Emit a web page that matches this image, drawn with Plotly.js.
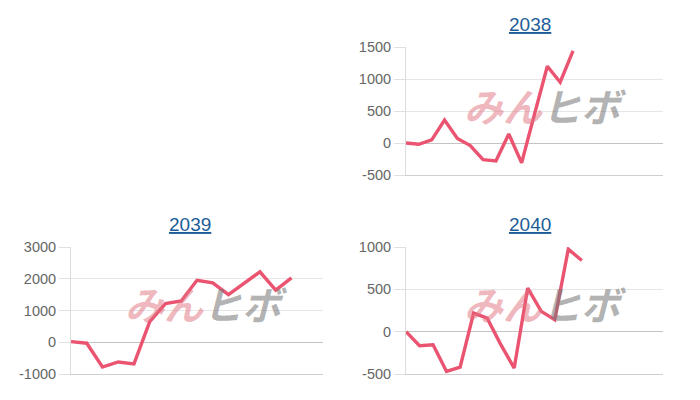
<!DOCTYPE html>
<html>
<head>
<meta charset="utf-8">
<script src="https://cdn.plot.ly/plotly-3.0.1.min.js"></script>
<style>html,body{margin:0;padding:0;background:#fff;}#chart{width:700px;height:400px;}</style>
</head>
<body>
<div id="chart"></div>
<script>
// Data
const titles = ["2038", "2039", "2040"];
const values2038 = [0, -20, 50, 360, 70, -40, -260, -280, 140, -310, 450, 1200, 950, 1440];
const values2039 = [20, -30, -780, -620, -680, 650, 1220, 1300, 1950, 1870, 1500, 1860, 2220, 1640, 2030];
const values2040 = [0, -165, -155, -470, -420, 220, 160, -150, -430, 515, 240, 140, 975, 840];
const ticks2038 = [-500, 0, 500, 1000, 1500];
const ticks2039 = [-1000, 0, 1000, 2000, 3000];
const ticks2040 = [-500, 0, 500, 1000];
const xSlots = [20, 16, 19]; // number of x intervals on each panel
const watermarkPink = "みん";
const watermarkGray = "ヒボ";

const lineColor = "#ea5470";
const idx = arr => arr.map((_, i) => i);

const traces = [
  {x: idx(values2038), y: values2038, xaxis: "x", yaxis: "y"},
  {x: idx(values2039), y: values2039, xaxis: "x2", yaxis: "y2"},
  {x: idx(values2040), y: values2040, xaxis: "x3", yaxis: "y3"}
].map(t => Object.assign(t, {
  type: "scatter", mode: "lines",
  line: {color: lineColor, width: 3.4, shape: "linear"},
  hoverinfo: "skip", showlegend: false
}));

const xBase = {
  showgrid: false, zeroline: false, showticklabels: false, ticks: "",
  showline: true, linecolor: "#cfcfcf", linewidth: 1, fixedrange: true
};
const yBase = {
  showgrid: true, gridcolor: "#e6e6e6", gridwidth: 1,
  zeroline: true, zerolinecolor: "#c4c4c4", zerolinewidth: 1,
  showline: true, linecolor: "#dcdcdc", linewidth: 1,
  ticks: "outside", ticklen: 11, tickcolor: "#e0e0e0", tickwidth: 1,
  tickfont: {family: "Liberation Sans, Arial, sans-serif", size: 14.5, color: "#666666"},
  fixedrange: true
};
const yAxis = (ticks, extra) => Object.assign({}, yBase, {
  range: [ticks[0], ticks[ticks.length - 1]],
  tickmode: "array", tickvals: ticks, ticktext: ticks.map(String)
}, extra);

const colR = [0.58, 0.9471];
const colL = [0.1014, 0.4614];
const rowT = [0.5625, 0.8825];
const rowB = [0.065, 0.3825];

const titleFont = {family: "Liberation Sans, Arial, sans-serif", size: 19, color: "#1c5d99", lineposition: "under"};
const titlePos = [[530 / 700, 1 - 24 / 400], [190 / 700, 1 - 224 / 400], [530 / 700, 1 - 224 / 400]];
const wmPos = [[545 / 700, 1 - 105 / 400], [206 / 700, 1 - 303 / 400], [545 / 700, 1 - 303 / 400]];

const annotations = [];
titles.forEach((t, i) => {
  annotations.push({
    text: t, xref: "paper", yref: "paper",
    x: titlePos[i][0], y: titlePos[i][1], xanchor: "center", yanchor: "middle",
    showarrow: false, font: titleFont
  });
  annotations.push({
    text: '<span style="color:rgba(224,112,126,0.5)">' + watermarkPink + '</span>' +
          '<span style="color:rgba(120,120,120,0.58)">' + watermarkGray + '</span>',
    xref: "paper", yref: "paper",
    x: wmPos[i][0], y: wmPos[i][1], xanchor: "center", yanchor: "middle",
    showarrow: false,
    font: {family: "Noto Sans CJK JP, sans-serif", size: 39, weight: "bold", style: "italic", color: "#999"}
  });
});

const layout = {
  width: 700, height: 400,
  margin: {l: 0, r: 0, t: 0, b: 0},
  paper_bgcolor: "#ffffff", plot_bgcolor: "#ffffff",
  showlegend: false,
  xaxis: Object.assign({}, xBase, {domain: colR, anchor: "y", range: [0, xSlots[0]]}),
  yaxis: yAxis(ticks2038, {domain: rowT, anchor: "x"}),
  xaxis2: Object.assign({}, xBase, {domain: colL, anchor: "y2", range: [0, xSlots[1]]}),
  yaxis2: yAxis(ticks2039, {domain: rowB, anchor: "x2"}),
  xaxis3: Object.assign({}, xBase, {domain: colR, anchor: "y3", range: [0, xSlots[2]]}),
  yaxis3: yAxis(ticks2040, {domain: rowB, anchor: "x3"}),
  annotations: annotations
};

Plotly.newPlot("chart", traces, layout, {displayModeBar: false, staticPlot: true});
</script>
</body>
</html>
